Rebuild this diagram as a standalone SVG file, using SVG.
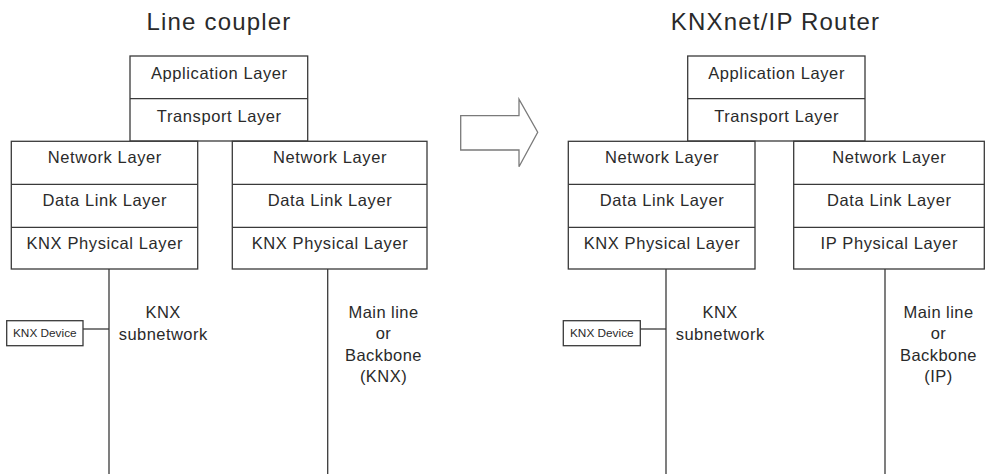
<svg xmlns="http://www.w3.org/2000/svg" width="993" height="474" viewBox="0 0 993 474">
  <style>
    .box { fill: #fff; stroke: #3a3a3a; stroke-width: 1.3; }
    .div { stroke: #3a3a3a; stroke-width: 1.3; fill: none; }
    .wire { stroke: #3a3a3a; stroke-width: 1.3; fill: none; }
    text { font-family: "Liberation Sans", Arial, sans-serif; fill: #2a2a2a; text-anchor: middle; }
    .title { font-size: 24px; letter-spacing: 1.2px; }
    .layer { font-size: 16.5px; letter-spacing: 0.6px; }
    .lbl { font-size: 16.5px; letter-spacing: 0.45px; }
    .dev { font-size: 11.8px; }
    .bigarrow { fill: #fff; stroke: #7a7a7a; stroke-width: 1.3; }
  </style>

  <!-- Titles -->
  <text class="title" x="219" y="29.5">Line coupler</text>
  <text class="title" x="775.5" y="29.5">KNXnet/IP Router</text>

  <!-- Line coupler stack -->
  <g id="lc-upper">
    <rect class="box" x="130" y="56" width="177.7" height="85"/>
    <line class="div" x1="130" y1="98.7" x2="307.7" y2="98.7"/>
    <text class="layer" x="219.3" y="79.3">Application Layer</text>
    <text class="layer" x="219.3" y="122.3">Transport Layer</text>
  </g>
  <g id="lc-left">
    <rect class="box" x="11.3" y="141.3" width="186.4" height="127.7"/>
    <line class="div" x1="11.3" y1="184.3" x2="197.7" y2="184.3"/>
    <line class="div" x1="11.3" y1="227.3" x2="197.7" y2="227.3"/>
    <text class="layer" x="104.8" y="163.3">Network Layer</text>
    <text class="layer" x="104.8" y="206">Data Link Layer</text>
    <text class="layer" x="104.8" y="249.3">KNX Physical Layer</text>
  </g>
  <g id="lc-right">
    <rect class="box" x="232.3" y="141.3" width="194.7" height="127.7"/>
    <line class="div" x1="232.3" y1="184.3" x2="427" y2="184.3"/>
    <line class="div" x1="232.3" y1="227.3" x2="427" y2="227.3"/>
    <text class="layer" x="330" y="163.3">Network Layer</text>
    <text class="layer" x="330" y="206">Data Link Layer</text>
    <text class="layer" x="330" y="249.3">KNX Physical Layer</text>
  </g>
  <g id="lc-device">
    <rect class="box" x="6.7" y="320.7" width="76.3" height="25"/>
    <text class="dev" x="44.8" y="337.3">KNX Device</text>
  </g>
  <g id="lc-labels">
    <text class="lbl" x="163.2" y="318">KNX</text>
    <text class="lbl" x="163.2" y="339.5">subnetwork</text>
    <text class="lbl" x="383.5" y="317.7">Main line</text>
    <text class="lbl" x="383.5" y="339.3">or</text>
    <text class="lbl" x="383.5" y="360.7">Backbone</text>
    <text class="lbl" x="383.5" y="382">(KNX)</text>
  </g>

  <!-- Transition arrow -->
  <g id="arrow">
    <path class="bigarrow" d="M460.7,115.7 H519 V99.3 L537.7,132.3 L519,166.7 V150 H460.7 Z"/>
  </g>

  <!-- KNXnet/IP Router stack -->
  <g id="ip-upper">
    <rect class="box" x="687.7" y="56" width="177.3" height="85"/>
    <line class="div" x1="687.7" y1="98.7" x2="865" y2="98.7"/>
    <text class="layer" x="776.6" y="79.3">Application Layer</text>
    <text class="layer" x="776.6" y="122.3">Transport Layer</text>
  </g>
  <g id="ip-left">
    <rect class="box" x="568.3" y="141.3" width="186.7" height="127.7"/>
    <line class="div" x1="568.3" y1="184.3" x2="755" y2="184.3"/>
    <line class="div" x1="568.3" y1="227.3" x2="755" y2="227.3"/>
    <text class="layer" x="662" y="163.3">Network Layer</text>
    <text class="layer" x="662" y="206">Data Link Layer</text>
    <text class="layer" x="662" y="249.3">KNX Physical Layer</text>
  </g>
  <g id="ip-right">
    <rect class="box" x="793.7" y="141.3" width="190.6" height="127.7"/>
    <line class="div" x1="793.7" y1="184.3" x2="984.3" y2="184.3"/>
    <line class="div" x1="793.7" y1="227.3" x2="984.3" y2="227.3"/>
    <text class="layer" x="889.3" y="163.3">Network Layer</text>
    <text class="layer" x="889.3" y="206">Data Link Layer</text>
    <text class="layer" x="889.3" y="249.3">IP Physical Layer</text>
  </g>
  <g id="ip-device">
    <rect class="box" x="563.3" y="320.7" width="77" height="25"/>
    <text class="dev" x="601.8" y="337.3">KNX Device</text>
  </g>
  <g id="ip-labels">
    <text class="lbl" x="720.2" y="318">KNX</text>
    <text class="lbl" x="720.2" y="339.5">subnetwork</text>
    <text class="lbl" x="938.5" y="317.7">Main line</text>
    <text class="lbl" x="938.5" y="339.3">or</text>
    <text class="lbl" x="938.5" y="360.7">Backbone</text>
    <text class="lbl" x="938.5" y="382">(IP)</text>
  </g>

  <!-- Bus lines and device taps -->
  <g id="connectors">
    <line class="wire" x1="109" y1="269" x2="109" y2="474"/>
    <line class="wire" x1="327.7" y1="269" x2="327.7" y2="474"/>
    <line class="wire" x1="83" y1="329" x2="109" y2="329"/>
    <line class="wire" x1="666" y1="269" x2="666" y2="474"/>
    <line class="wire" x1="885" y1="269" x2="885" y2="474"/>
    <line class="wire" x1="640.3" y1="329" x2="666" y2="329"/>
  </g>
</svg>
